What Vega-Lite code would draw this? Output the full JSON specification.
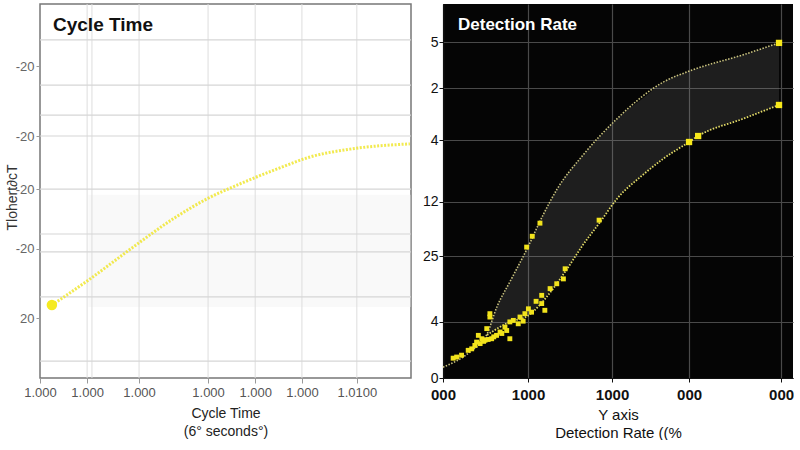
{
  "$schema": "https://vega.github.io/schema/vega-lite/v6.json",
  "padding": {"left": 4, "top": 2, "right": 0, "bottom": 0},
  "background": "white",
  "spacing": 5,
  "config": {
    "font": "Liberation Sans",
    "axis": {"labelFont": "Liberation Sans", "titleFont": "Liberation Sans"}
  },
  "datasets": {
    "lcurve": [
      {"x": 3.2, "y": 19.5}, {"x": 13.5, "y": 26.5}, {"x": 25.1, "y": 35.0},
      {"x": 35.8, "y": 42.5}, {"x": 45.0, "y": 47.9}, {"x": 53.9, "y": 51.9},
      {"x": 63.9, "y": 55.9}, {"x": 72.8, "y": 59.1}, {"x": 83.6, "y": 61.2},
      {"x": 99.7, "y": 62.6}
    ],
    "lhgrid": [
      {"y": 90.4}, {"y": 78.3}, {"y": 70.3}, {"y": 64.7}, {"y": 50.5},
      {"y": 38.5}, {"y": 33.7}, {"y": 21.7}, {"y": 4.5}
    ],
    "lvgrid": [
      {"x": 12.7}, {"x": 14.0}, {"x": 26.7}, {"x": 45.3}, {"x": 58.0},
      {"x": 70.6}, {"x": 85.4}
    ],
    "ltex": [{"x": 13, "x2": 100, "y": 19, "y2": 49}],
    "ru": [
      {"x": 0, "y": 2.9}, {"x": 7.7, "y": 7.0}, {"x": 12.6, "y": 11.8},
      {"x": 15.4, "y": 19.0}, {"x": 19.1, "y": 25.7}, {"x": 24.0, "y": 34.5},
      {"x": 28.6, "y": 43.6}, {"x": 32.6, "y": 50.5}, {"x": 40.0, "y": 59.6},
      {"x": 49.7, "y": 69.3}, {"x": 62.9, "y": 79.1}, {"x": 71.4, "y": 82.4},
      {"x": 85.7, "y": 86.4}, {"x": 96.0, "y": 89.6}
    ],
    "rl": [
      {"x": 12.6, "y": 11.5}, {"x": 19.1, "y": 15.0}, {"x": 24.0, "y": 16.5},
      {"x": 31.4, "y": 23.8}, {"x": 35.4, "y": 29.1}, {"x": 40.0, "y": 35.6},
      {"x": 44.9, "y": 41.7}, {"x": 49.7, "y": 47.9}, {"x": 57.1, "y": 54.3},
      {"x": 62.9, "y": 58.6}, {"x": 70.3, "y": 63.1}, {"x": 72.9, "y": 64.7},
      {"x": 85.7, "y": 69.3}, {"x": 96.0, "y": 73.0}
    ],
    "band": [
      {"x": 12.6, "lo": 11.5, "hi": 11.8}, {"x": 15.4, "lo": 13.0, "hi": 19.0},
      {"x": 19.1, "lo": 15.0, "hi": 25.7}, {"x": 24.0, "lo": 16.5, "hi": 34.5},
      {"x": 28.6, "lo": 21.0, "hi": 43.6}, {"x": 32.6, "lo": 25.5, "hi": 50.5},
      {"x": 40.0, "lo": 35.6, "hi": 59.6}, {"x": 44.9, "lo": 41.7, "hi": 64.5},
      {"x": 49.7, "lo": 47.9, "hi": 69.3}, {"x": 57.1, "lo": 54.3, "hi": 74.8},
      {"x": 62.9, "lo": 58.6, "hi": 79.1}, {"x": 70.3, "lo": 63.1, "hi": 82.0},
      {"x": 77.0, "lo": 66.5, "hi": 84.0}, {"x": 85.7, "lo": 69.3, "hi": 86.4},
      {"x": 96.0, "lo": 73.0, "hi": 89.6}
    ],
    "rsc": [
      {"x": 2.9, "y": 5.3}, {"x": 3.9, "y": 5.6}, {"x": 5.3, "y": 6.1},
      {"x": 7.2, "y": 7.4}, {"x": 8.2, "y": 7.8}, {"x": 9.1, "y": 8.7},
      {"x": 9.6, "y": 9.6}, {"x": 10.6, "y": 9.2}, {"x": 11.1, "y": 10.5},
      {"x": 12.0, "y": 10.1}, {"x": 12.9, "y": 10.3}, {"x": 13.9, "y": 10.5},
      {"x": 15.3, "y": 11.4}, {"x": 13.4, "y": 16.3}, {"x": 13.4, "y": 17.2},
      {"x": 16.3, "y": 12.3}, {"x": 17.7, "y": 13.6}, {"x": 18.2, "y": 12.7},
      {"x": 19.1, "y": 15.0}, {"x": 19.1, "y": 10.5}, {"x": 20.1, "y": 15.4},
      {"x": 21.5, "y": 14.5}, {"x": 22.9, "y": 15.2}, {"x": 23.4, "y": 17.2},
      {"x": 24.4, "y": 18.5}, {"x": 25.3, "y": 17.6}, {"x": 26.6, "y": 20.5},
      {"x": 28.2, "y": 22.1}, {"x": 29.1, "y": 18.1}, {"x": 30.6, "y": 23.9},
      {"x": 32.5, "y": 25.2}, {"x": 34.4, "y": 26.5}, {"x": 34.9, "y": 29.2},
      {"x": 23.9, "y": 35.0}, {"x": 25.5, "y": 37.9}, {"x": 27.7, "y": 41.4},
      {"x": 44.6, "y": 42.2}, {"x": 28.2, "y": 19.9}, {"x": 22.0, "y": 16.3},
      {"x": 10.1, "y": 11.4}, {"x": 12.5, "y": 13.2}, {"x": 14.5, "y": 11.0},
      {"x": 11.6, "y": 9.8}, {"x": 16.8, "y": 11.9}
    ],
    "rend": [
      {"x": 96.0, "y": 89.6}, {"x": 96.0, "y": 73.0},
      {"x": 70.3, "y": 63.1}, {"x": 72.9, "y": 64.7}
    ]
  },
  "hconcat": [
    {
      "width": 371,
      "height": 374,
      "view": {"stroke": "#777777", "strokeWidth": 1.5, "fill": "white"},
      "title": {
        "text": "Cycle Time", "anchor": "start", "frame": "group",
        "offset": -31, "dx": 13, "fontSize": 19, "fontWeight": "bold",
        "color": "#111111", "font": "Liberation Sans"
      },
      "layer": [
        {
          "data": {"name": "ltex"},
          "mark": {"type": "rect", "fill": "#efefef", "opacity": 0.35},
          "encoding": {
            "x": {
              "field": "x", "type": "quantitative",
              "scale": {"domain": [0, 100], "nice": false, "zero": false},
              "axis": {
                "values": [0, 12.7, 26.7, 45.3, 58, 70.6, 85.4],
                "labelExpr": "datum.value > 80 ? '1.0100' : '1.000'",
                "labelFlush": false,
                "grid": false, "domain": false,
                "tickColor": "#999999", "tickSize": 5,
                "labelColor": "#555555", "labelFontSize": 13, "labelPadding": 3,
                "title": ["Cycle Time", "(6° seconds°)"],
                "titleFontSize": 14, "titleFontWeight": "normal", "titleColor": "#222222",
                "titlePadding": 7, "titleLineHeight": 18
              }
            },
            "x2": {"field": "x2"},
            "y": {
              "field": "y", "type": "quantitative",
              "scale": {"domain": [0, 100], "nice": false, "zero": false},
              "axis": {
                "values": [16, 34.5, 50.5, 64.7, 83.4],
                "labelExpr": "datum.value < 20 ? '20' : '-20'",
                "grid": false, "domain": false,
                "tickColor": "#999999", "tickSize": 4, "labelPadding": 2,
                "labelColor": "#666666", "labelFontSize": 13,
                "title": "Tlohert∂cT", "titleFontSize": 14, "titleFontWeight": "normal",
                "titleColor": "#333333", "titleX": -21, "titleY": 193
              }
            },
            "y2": {"field": "y2"}
          }
        },
        {
          "data": {"name": "lvgrid"},
          "mark": {"type": "rule", "color": "#dddddd", "strokeWidth": 1},
          "encoding": {"x": {"field": "x", "type": "quantitative"}}
        },
        {
          "data": {"name": "lhgrid"},
          "mark": {"type": "rule", "color": "#d6d6d6", "strokeWidth": 1.2},
          "encoding": {"y": {"field": "y", "type": "quantitative"}}
        },
        {
          "data": {"name": "lcurve"},
          "mark": {"type": "line", "interpolate": "monotone", "color": "#f0e630", "strokeWidth": 3, "strokeDash": [2, 1.5], "opacity": 0.85},
          "encoding": {
            "x": {"field": "x", "type": "quantitative"},
            "y": {"field": "y", "type": "quantitative"}
          }
        },
        {
          "data": {"values": [{"x": 3.2, "y": 19.5}]},
          "mark": {"type": "circle", "color": "#f5ea20", "size": 110, "opacity": 1},
          "encoding": {
            "x": {"field": "x", "type": "quantitative"},
            "y": {"field": "y", "type": "quantitative"}
          }
        }
      ]
    },
    {
      "width": 350,
      "height": 374,
      "view": {"fill": "#050505", "stroke": null},
      "title": {
        "text": "Detection Rate", "anchor": "start", "frame": "group",
        "offset": -30, "dx": 15, "fontSize": 17, "fontWeight": "bold",
        "color": "#ffffff", "font": "Liberation Sans"
      },
      "layer": [
        {
          "data": {"name": "band"},
          "mark": {"type": "area", "fill": "#9a9a9a", "opacity": 0.17, "interpolate": "monotone"},
          "encoding": {
            "x": {
              "field": "x", "type": "quantitative",
              "scale": {"domain": [0, 100], "nice": false, "zero": false},
              "axis": {
                "values": [0, 24.3, 48.3, 70.3, 96.6],
                "labelExpr": "(datum.value > 20 && datum.value < 50) ? '1000' : '000'",
                "labelFlush": false,
                "grid": true, "gridColor": "#4a4a4a", "gridWidth": 1.2,
                "domain": true, "domainColor": "#111111",
                "tickColor": "#111111", "tickSize": 4,
                "labelColor": "#111111", "labelFontSize": 15, "labelFontWeight": "bold", "labelPadding": 5,
                "title": ["Y axis", "Detection Rate  ((%"],
                "titleFontSize": 15, "titleFontWeight": "normal", "titleColor": "#111111",
                "titlePadding": 5, "titleLineHeight": 18
              }
            },
            "y": {
              "field": "lo", "type": "quantitative",
              "scale": {"domain": [0, 100], "nice": false, "zero": false},
              "axis": {
                "values": [0, 15, 32.6, 47.1, 63.6, 77.5, 89.8],
                "labelExpr": "datum.value < 1 ? '0' : datum.value < 20 ? '4' : datum.value < 40 ? '25' : datum.value < 55 ? '12' : datum.value < 70 ? '4' : datum.value < 80 ? '2' : '5'",
                "grid": true, "gridColor": "#4a4a4a", "gridWidth": 1.2,
                "domain": true, "domainColor": "#111111",
                "tickColor": "#111111", "tickSize": 4, "labelPadding": 1,
                "labelColor": "#111111", "labelFontSize": 14,
                "title": null
              }
            },
            "y2": {"field": "hi"}
          }
        },
        {
          "data": {"name": "ru"},
          "mark": {"type": "line", "interpolate": "monotone", "color": "#c9c27e", "strokeWidth": 1.6, "strokeDash": [1.5, 1.5]},
          "encoding": {
            "x": {"field": "x", "type": "quantitative"},
            "y": {"field": "y", "type": "quantitative"}
          }
        },
        {
          "data": {"name": "rl"},
          "mark": {"type": "line", "interpolate": "monotone", "color": "#e2da66", "strokeWidth": 1.8, "strokeDash": [1.5, 1.5]},
          "encoding": {
            "x": {"field": "x", "type": "quantitative"},
            "y": {"field": "y", "type": "quantitative"}
          }
        },
        {
          "data": {"name": "rsc"},
          "mark": {"type": "square", "color": "#f2e31c", "size": 24, "opacity": 1, "filled": true},
          "encoding": {
            "x": {"field": "x", "type": "quantitative"},
            "y": {"field": "y", "type": "quantitative"}
          }
        },
        {
          "data": {"name": "rend"},
          "mark": {"type": "square", "color": "#f7e81a", "size": 40, "opacity": 1, "filled": true},
          "encoding": {
            "x": {"field": "x", "type": "quantitative"},
            "y": {"field": "y", "type": "quantitative"}
          }
        }
      ]
    }
  ]
}
